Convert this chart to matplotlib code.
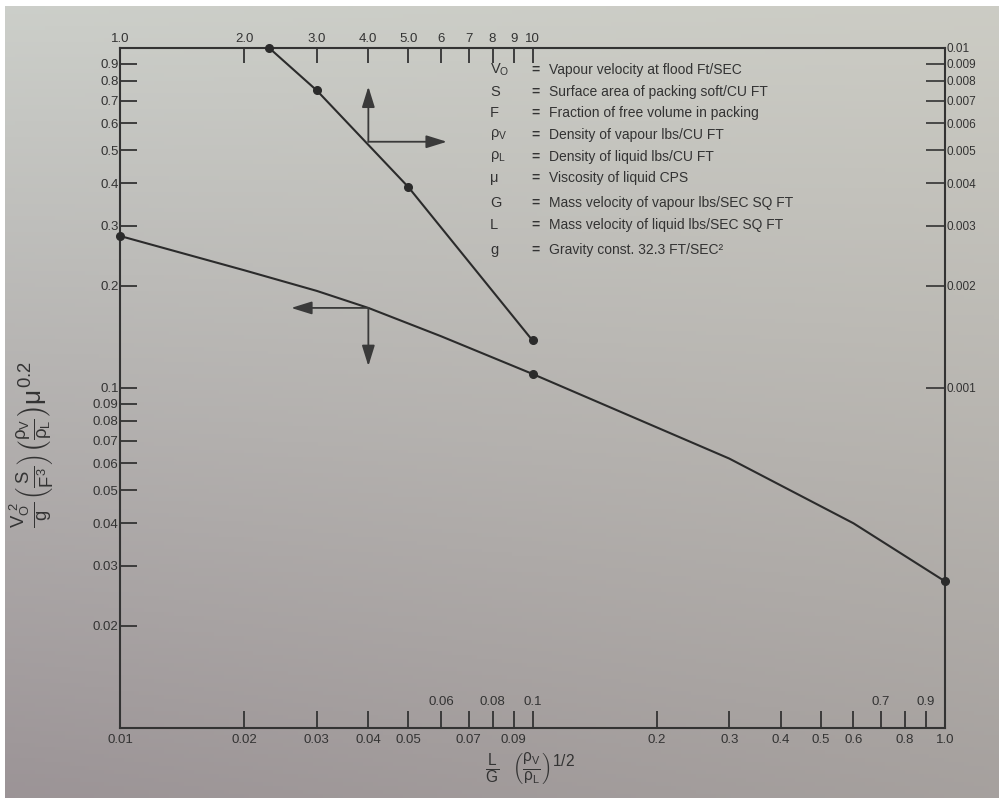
import numpy as np
import matplotlib
matplotlib.use("Agg")
import matplotlib.pyplot as plt
from matplotlib.ticker import FixedLocator, FixedFormatter, NullLocator

plt.rcParams.update({
    "font.family": ["Liberation Sans", "DejaVu Sans"],
    "mathtext.fontset": "custom",
    "mathtext.rm": "Liberation Sans",
    "mathtext.it": "Liberation Sans",
    "mathtext.bf": "Liberation Sans:bold",
    "mathtext.sf": "Liberation Sans",
})

# ---- data -------------------------------------------------------------
# flooding curve, read against bottom (x) and left (y) scales
lower_x = [0.01, 0.02, 0.03, 0.04, 0.06, 0.1, 0.3, 0.6, 1.0]
lower_y = [0.28, 0.222, 0.193, 0.172, 0.142, 0.11, 0.062, 0.040, 0.027]
lower_marked = [0, 5, 8]

# correction curve, read against top (x) and right (y) scales
upper_top = [2.3, 3.0, 5.0, 10.0]
upper_right = [0.01, 0.0075, 0.0039, 0.00138]

# scale ticks
bottom_ticks = [0.01, 0.02, 0.03, 0.04, 0.05, 0.06, 0.07, 0.08, 0.09, 0.1,
                0.2, 0.3, 0.4, 0.5, 0.6, 0.7, 0.8, 0.9, 1.0]
bottom_below = ["0.01", "0.02", "0.03", "0.04", "0.05", "", "0.07", "", "0.09", "",
                "0.2", "0.3", "0.4", "0.5", "0.6", "", "0.8", "", "1.0"]
bottom_above = {0.06: "0.06", 0.08: "0.08", 0.1: "0.1", 0.7: "0.7", 0.9: "0.9"}

left_ticks = [0.02, 0.03, 0.04, 0.05, 0.06, 0.07, 0.08, 0.09,
              0.1, 0.2, 0.3, 0.4, 0.5, 0.6, 0.7, 0.8, 0.9]
left_labels = ["0.02", "0.03", "0.04", "0.05", "0.06", "0.07", "0.08", "0.09",
               "0.1", "0.2", "0.3", "0.4", "0.5", "0.6", "0.7", "0.8", "0.9"]

top_ticks = [1, 2, 3, 4, 5, 6, 7, 8, 9, 10]
top_labels = ["1.0", "2.0", "3.0", "4.0", "5.0", "6", "7", "8", "9", "10"]

right_ticks = [0.001, 0.002, 0.003, 0.004, 0.005, 0.006, 0.007, 0.008, 0.009, 0.01]
right_labels = ["0.001", "0.002", "0.003", "0.004", "0.005", "0.006",
                "0.007", "0.008", "0.009", "0.01"]

legend_symbols = [r"$\mathregular{V_O}$", "S", "F", r"$\rho_\mathregular{V}$",
                  r"$\rho_\mathregular{L}$", "μ", "G", "L", "g"]
legend_texts = [
    "Vapour velocity at flood Ft/SEC",
    "Surface area of packing soft/CU FT",
    "Fraction of free volume in packing",
    "Density of vapour lbs/CU FT",
    "Density of liquid lbs/CU FT",
    "Viscosity of liquid CPS",
    "Mass velocity of vapour lbs/SEC SQ FT",
    "Mass velocity of liquid lbs/SEC SQ FT",
    "Gravity const. 32.3 FT/SEC²",
]

# ---- figure -------------------------------------------------------------
INK = "#333333"
W, H = 999, 798
fig = plt.figure(figsize=(W / 100, H / 100), dpi=100, facecolor="white")

# paper tone: light grey at the top fading to a warmer grey at the bottom
bg = fig.add_axes([5 / W, 0, 1 - 5 / W, 1 - 6 / H], zorder=-5)
tl = np.array([0.80, 0.81, 0.79])
tr = np.array([0.80, 0.80, 0.77])
bl = np.array([0.61, 0.58, 0.59])
br = np.array([0.65, 0.63, 0.62])
u = np.linspace(0, 1, 200)[None, :, None]
v = np.linspace(0, 1, 200)[:, None, None]
grad = (1 - v) * ((1 - u) * tl + u * tr) + v * ((1 - u) * bl + u * br)
bg.imshow(grad, extent=[0, 1, 0, 1], aspect="auto", origin="upper")
bg.axis("off")

rect = [120 / W, 1 - 728 / H, 825 / W, 680 / H]
ax = fig.add_axes(rect, facecolor="none")
ax.set_xscale("log")
ax.set_yscale("log")
ax.set_xlim(0.01, 1.0)
ax.set_ylim(0.01, 1.0)

ax_tr = fig.add_axes(rect, facecolor="none", frameon=False)
ax_tr.set_xscale("log")
ax_tr.set_yscale("log")
ax_tr.set_xlim(1, 100)
ax_tr.set_ylim(0.0001, 0.01)

for s in ax.spines.values():
    s.set_linewidth(1.5)
    s.set_color(INK)

# bottom scale
ax.xaxis.set_major_locator(FixedLocator(bottom_ticks))
ax.xaxis.set_major_formatter(FixedFormatter(bottom_below))
ax.xaxis.set_minor_locator(NullLocator())
ax.tick_params(axis="x", which="major", direction="in", length=12, width=1.3,
               color=INK, labelcolor=INK, labelsize=9.5, pad=4, top=False)
for xv, lab in bottom_above.items():
    ax.annotate(lab, (xv, 0), xycoords=("data", "axes fraction"),
                xytext=(0, 19), textcoords="offset points",
                ha="center", va="center", fontsize=9.5, color=INK)

# left scale
ax.yaxis.set_major_locator(FixedLocator(left_ticks))
ax.yaxis.set_major_formatter(FixedFormatter(left_labels))
ax.yaxis.set_minor_locator(NullLocator())
ax.tick_params(axis="y", which="major", direction="in", length=12, width=1.3,
               color=INK, labelcolor=INK, labelsize=9.5, pad=1, right=False)

# top scale
ax_tr.xaxis.tick_top()
ax_tr.xaxis.set_major_locator(FixedLocator(top_ticks))
ax_tr.xaxis.set_major_formatter(FixedFormatter(top_labels))
ax_tr.xaxis.set_minor_locator(NullLocator())
ax_tr.tick_params(axis="x", which="major", direction="in", length=11, width=1.3,
                  color=INK, labelcolor=INK, labelsize=9.5, pad=2,
                  top=True, bottom=False, labeltop=True, labelbottom=False)

# right scale
ax_tr.yaxis.tick_right()
ax_tr.yaxis.set_major_locator(FixedLocator(right_ticks))
ax_tr.yaxis.set_major_formatter(FixedFormatter(right_labels))
ax_tr.yaxis.set_minor_locator(NullLocator())
ax_tr.tick_params(axis="y", which="major", direction="in", length=14, width=1.2,
                  color=INK, labelcolor=INK, labelsize=8.5, pad=1,
                  right=True, left=False, labelright=True, labelleft=False)

# curves
ax.plot(lower_x, lower_y, color="#2b2b2b", lw=1.5, marker="o", ms=5.5,
        markevery=lower_marked, zorder=3, clip_on=False)
ax_tr.plot(upper_top, upper_right, color="#2b2b2b", lw=1.5, marker="o", ms=5.5,
           zorder=3, clip_on=False)

# reading-direction arrows
arrow_kw = dict(arrowstyle="-|>,head_length=0.9,head_width=0.28", mutation_scale=14,
                lw=1.3, color="#3a3a3a", shrinkA=0, shrinkB=0)
ax_tr.annotate("", xy=(4.0, 0.0077), xytext=(4.0, 0.0053), arrowprops=arrow_kw)
ax_tr.annotate("", xy=(6.2, 0.0053), xytext=(4.0, 0.0053), arrowprops=arrow_kw)
ax.annotate("", xy=(0.026, 0.172), xytext=(0.04, 0.172), arrowprops=arrow_kw)
ax.annotate("", xy=(0.04, 0.116), xytext=(0.04, 0.172), arrowprops=arrow_kw)

# symbol key
row_y = [70, 92, 113, 135, 157, 178, 203, 225, 250]
for sym, txt, yy in zip(legend_symbols, legend_texts, row_y):
    fy = 1 - yy / H
    fig.text(490 / W, fy, sym, ha="left", va="center", fontsize=10.5, color=INK)
    fig.text(535 / W, fy, "=", ha="center", va="center", fontsize=10, color=INK,
             fontweight="bold")
    fig.text(549 / W, fy, txt, ha="left", va="center", fontsize=10, color=INK)

# axis titles
fig.text(32 / W, 1 - 445 / H,
         r"$\frac{V_O^{\ 2}}{g}\left(\frac{S}{F^3}\right)\left(\frac{\rho_V}{\rho_L}\right)\mu^{0.2}$",
         rotation=90, ha="center", va="center", fontsize=19, color=INK)
fig.text(530 / W, 1 - 768 / H,
         r"$\frac{L}{G}\ \ \left(\frac{\rho_V}{\rho_L}\right)^{1/2}$",
         ha="center", va="center", fontsize=16, color=INK)

fig.savefig("out.png", dpi=100, facecolor=fig.get_facecolor())
